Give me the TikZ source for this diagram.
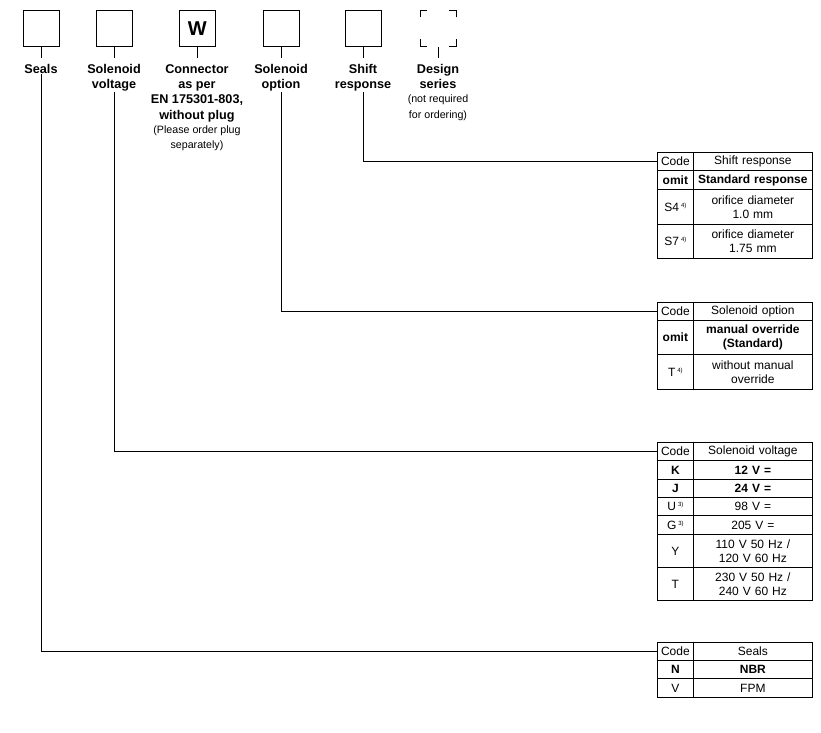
\documentclass[tikz,border=0pt]{standalone}
\usepackage{fontspec}
\setmainfont{Liberation Sans}
\usetikzlibrary{calc}
\begin{document}
\newcommand{\trow}[6]{% name, top y px, height px, code, desc, code options
  \node[cell,#6,minimum width=27pt,minimum height=#3*0.75pt] (#1c) at (657,#2) {#4};
  \node[cell,#6,minimum width=89.25pt,minimum height=#3*0.75pt,text width=86pt] (#1d) at (693,#2) {#5};}
\newcommand{\sfn}[1]{\,\raisebox{0.6ex}{\fontsize{4.5}{5}\selectfont #1}}
\begin{tikzpicture}[x=0.75pt,y=-0.75pt,line width=0.6pt,
  box/.style={draw,minimum size=27pt,inner sep=0pt,anchor=north west,font=\fontsize{15}{15}\selectfont\bfseries},
  lab/.style={align=center,anchor=north,font=\fontsize{9.5}{11.5}\selectfont\bfseries,inner sep=0pt},
  cell/.style={draw,anchor=north west,inner sep=0pt,align=center,font=\fontsize{9}{10.5}\selectfont},
  conn/.style={line width=0.6pt}]
\useasboundingbox (0,0) rectangle (821,732);
% boxes
\node[box] (b1) at (23,10) {};
\node[box] (b2) at (96,10) {};
\node[box] (b3) at (179,10) {W};
\node[box] (b4) at (263,10) {};
\node[box] (b5) at (345,10) {};
\node[minimum size=27pt,inner sep=0pt,anchor=north west] (b6) at (420,10) {};
\foreach \sx/\sy in {1/1,-1/1,1/-1,-1/-1}{
  \draw ($(b6.center)+(\sx*18,\sy*11)$) -- ($(b6.center)+(\sx*18,\sy*18)$) -- ($(b6.center)+(\sx*11,\sy*18)$);}
% labels
\node[lab] (l1) at (41,64) {Seals};
\node[lab] (l2) at (114,64) {Solenoid\\voltage};
\node[lab] (l3) at (197,64) {Connector\\as per\\EN 175301-803,\\without plug\\[-1pt]{\fontsize{8}{9.5}\selectfont\mdseries (Please order plug}\\{\fontsize{8}{9.5}\selectfont\mdseries separately)}};
\node[lab] (l4) at (281,64) {Solenoid\\option};
\node[lab] (l5) at (363,64) {Shift\\response};
\node[lab] (l6) at (438,64) {Design\\series\\[-1pt]{\fontsize{8}{9.5}\selectfont\mdseries (not required}\\{\fontsize{8}{9.5}\selectfont\mdseries for ordering)}};
\foreach \i in {1,...,6}{\draw (b\i.south) -- ++(0,11);}
% tables
\trow{sa}{152}{18}{Code}{Shift response}{}
\trow{sb}{170}{19}{\bfseries omit}{\bfseries Standard response}{}
\trow{sc}{189}{35}{S4\sfn{4)}}{orifice diameter\\1.0 mm}{}
\trow{sd}{224}{34}{S7\sfn{4)}}{orifice diameter\\1.75 mm}{}
\trow{oa}{302}{18}{Code}{Solenoid option}{}
\trow{ob}{320}{34}{\bfseries omit}{\bfseries manual override\\\bfseries (Standard)}{}
\trow{oc}{354}{35}{T\sfn{4)}}{without manual\\override}{}
\trow{va}{442}{18}{Code}{Solenoid voltage}{}
\trow{vb}{460}{19}{\bfseries K}{\bfseries 12 V =}{}
\trow{vc}{479}{18}{\bfseries J}{\bfseries 24 V =}{}
\trow{vd}{497}{18}{U\sfn{3)}}{98 V =}{}
\trow{ve}{515}{19}{G\sfn{3)}}{205 V =}{}
\trow{vf}{534}{33}{Y}{110 V 50 Hz /\\120 V 60 Hz}{}
\trow{vg}{567}{33}{T}{230 V 50 Hz /\\240 V 60 Hz}{}
\trow{ea}{642}{18}{Code}{Seals}{}
\trow{eb}{660}{18}{\bfseries N}{\bfseries NBR}{}
\trow{ec}{678}{19}{V}{FPM}{}
% connectors
\draw[conn] (l1.south) |- (eac.west);
\draw[conn] (l2.south) |- (vac.west);
\draw[conn] (l4.south) |- (oac.west);
\draw[conn] (l5.south) |- (sac.west);
\end{tikzpicture}
\end{document}
